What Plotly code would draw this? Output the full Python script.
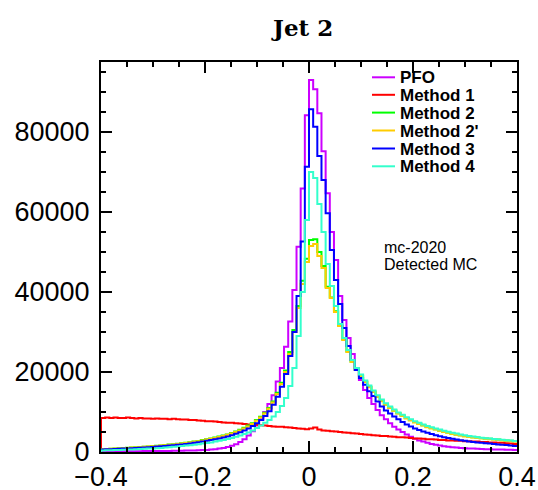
import numpy as np
import plotly.graph_objects as go

# ---------------- data (counts in thousands, 100 bins from -0.4 to 0.4) ----------------
x_min, x_max, n_bins = -0.4, 0.4, 100

pfo_k = [0.15, 0.15, 0.16, 0.17, 0.17, 0.18, 0.19, 0.2, 0.2, 0.21,
         0.22, 0.23, 0.24, 0.25, 0.26, 0.27, 0.28, 0.3, 0.31, 0.33,
         0.35, 0.37, 0.4, 0.43, 0.47, 0.52, 0.6, 0.7, 0.85, 1.0,
         1.25, 1.55, 1.95, 2.5, 3.2, 4.1, 5.2, 6.6, 8.2, 10.0,
         12.0, 14.2, 17.6, 21.0, 26.3, 32.6, 40.5, 51.3, 65.9, 84.2,
         93.0, 90.7, 84.7, 75.2, 64.7, 55.0, 48.0, 39.0, 33.0, 28.5,
         24.5, 21.0, 18.0, 15.5, 13.5, 12.0, 10.5, 9.2, 8.2, 7.2,
         6.3, 5.6, 5.0, 4.4, 3.8, 3.3, 2.9, 2.6, 2.3, 2.0,
         1.8, 1.6, 1.45, 1.3, 1.2, 1.1, 1.0, 0.95, 0.9, 0.85,
         0.8, 0.75, 0.7, 0.68, 0.65, 0.62, 0.6, 0.58, 0.55, 0.52]

method1_k = [8.5, 8.6, 8.5, 8.6, 8.5, 8.5, 8.6, 8.5, 8.4, 8.5,
             8.4, 8.4, 8.3, 8.4, 8.3, 8.3, 8.2, 8.3, 8.2, 8.1,
             8.1, 8.0, 8.0, 7.9, 7.8, 7.7, 7.7, 7.6, 7.5, 7.4,
             7.3, 7.3, 7.2, 7.1, 7.0, 6.9, 6.9, 6.8, 6.7, 6.6,
             6.5, 6.4, 6.3, 6.3, 6.2, 6.1, 6.0, 5.9, 5.8, 5.7,
             5.9, 6.1, 5.6, 5.4, 5.3, 5.2, 5.1, 5.0, 4.9, 4.8,
             4.7, 4.6, 4.5, 4.4, 4.3, 4.2, 4.1, 4.0, 4.0, 3.9,
             3.8, 3.7, 3.7, 3.6, 3.5, 3.4, 3.4, 3.3, 3.2, 3.2,
             3.1, 3.0, 3.0, 2.9, 2.9, 2.8, 2.8, 2.7, 2.7, 2.6,
             2.6, 2.5, 2.5, 2.4, 2.4, 2.3, 2.3, 2.2, 2.1, 2.0]

method2_k = [0.72, 0.78, 0.82, 0.88, 0.92, 0.98, 1.05, 1.12, 1.18, 1.25,
             1.32, 1.4, 1.48, 1.55, 1.65, 1.75, 1.85, 1.95, 2.05, 2.18,
             2.3, 2.45, 2.6, 2.78, 2.98, 3.2, 3.4, 3.6, 3.85, 4.1,
             4.4, 4.75, 5.1, 5.55, 6.05, 6.6, 7.2, 8.0, 8.8, 9.8,
             11.0, 12.6, 14.8, 17.3, 20.4, 25.0, 30.5, 36.5, 42.8, 48.3,
             53.0, 53.2, 50.0, 46.5, 41.3, 38.6, 35.2, 31.6, 28.1, 25.1,
             22.6, 20.6, 19.1, 17.6, 16.3, 15.1, 13.9, 12.8, 11.9, 11.1,
             10.4, 9.7, 9.1, 8.5, 8.0, 7.5, 7.1, 6.7, 6.3, 6.0,
             5.7, 5.4, 5.1, 4.9, 4.6, 4.4, 4.2, 4.0, 3.9, 3.7,
             3.6, 3.5, 3.4, 3.3, 3.2, 3.1, 3.0, 2.9, 2.8, 2.7]

method2p_k = [0.7, 0.75, 0.8, 0.85, 0.9, 0.95, 1.0, 1.1, 1.15, 1.2,
              1.3, 1.35, 1.45, 1.5, 1.6, 1.7, 1.8, 1.9, 2.0, 2.1,
              2.25, 2.4, 2.55, 2.7, 2.9, 3.1, 3.3, 3.5, 3.75, 4.0,
              4.3, 4.6, 5.0, 5.4, 5.9, 6.4, 7.0, 7.8, 8.6, 9.6,
              10.8, 12.4, 14.5, 17.0, 20.0, 24.5, 30.0, 36.0, 42.0, 47.5,
              51.5, 52.0, 49.0, 46.0, 41.0, 38.5, 35.0, 31.5, 28.0, 25.0,
              22.5, 20.5, 19.0, 17.5, 16.2, 15.0, 13.8, 12.7, 11.8, 11.0,
              10.3, 9.6, 9.0, 8.4, 7.9, 7.4, 7.0, 6.6, 6.2, 5.9,
              5.6, 5.3, 5.0, 4.8, 4.5, 4.3, 4.1, 3.9, 3.8, 3.6,
              3.5, 3.4, 3.3, 3.2, 3.1, 3.0, 2.9, 2.8, 2.7, 2.6]

method3_k = [0.62, 0.66, 0.7, 0.75, 0.8, 0.85, 0.9, 0.96, 1.02, 1.08,
             1.15, 1.2, 1.28, 1.35, 1.42, 1.5, 1.6, 1.7, 1.8, 1.9,
             2.0, 2.15, 2.3, 2.45, 2.6, 2.8, 3.0, 3.2, 3.4, 3.65,
             3.9, 4.2, 4.55, 4.95, 5.4, 5.9, 6.5, 7.2, 8.0, 9.0,
             10.2, 11.8, 13.8, 16.3, 19.5, 24.0, 30.0, 39.0, 52.6, 71.3,
             85.7, 81.3, 74.0, 68.0, 59.7, 50.5, 43.0, 37.0, 31.0, 26.5,
             23.0, 20.5, 18.5, 16.8, 15.2, 14.0, 12.6, 11.4, 10.4, 9.6,
             8.9, 8.2, 7.5, 6.9, 6.4, 5.9, 5.5, 5.1, 4.8, 4.5,
             4.2, 3.95, 3.7, 3.5, 3.3, 3.1, 2.95, 2.8, 2.65, 2.5,
             2.4, 2.3, 2.2, 2.1, 2.0, 1.9, 1.8, 1.72, 1.62, 1.52]

method4_k = [0.4, 0.43, 0.46, 0.5, 0.53, 0.57, 0.6, 0.65, 0.7, 0.75,
             0.8, 0.85, 0.9, 0.95, 1.0, 1.1, 1.2, 1.3, 1.4, 1.5,
             1.6, 1.7, 1.8, 1.95, 2.1, 2.25, 2.4, 2.6, 2.8, 3.0,
             3.25, 3.5, 3.8, 4.1, 4.5, 4.9, 5.4, 6.0, 6.6, 7.3,
             8.0, 8.9, 10.0, 11.5, 13.5, 16.5, 21.0, 29.0, 40.0, 58.0,
             70.0, 68.5, 62.0, 55.0, 47.0, 41.5, 36.5, 32.0, 28.5, 25.5,
             23.0, 21.0, 19.4, 17.9, 16.6, 15.4, 14.2, 13.1, 12.2, 11.4,
             10.6, 9.9, 9.3, 8.7, 8.2, 7.7, 7.3, 6.9, 6.5, 6.2,
             5.9, 5.6, 5.3, 5.05, 4.8, 4.6, 4.4, 4.2, 4.0, 3.85,
             3.7, 3.55, 3.45, 3.35, 3.25, 3.15, 3.05, 2.95, 2.85, 2.75]

series_names = ["PFO", "Method 1", "Method 2", "Method 2'", "Method 3", "Method 4"]
series_values_k = [pfo_k, method1_k, method2_k, method2p_k, method3_k, method4_k]
series_colors = ["#cc00ff", "#ff0000", "#00ff00", "#ffcc00", "#0000ff", "#33ffcc"]

x_tick_vals = [-0.4, -0.2, 0.0, 0.2, 0.4]
x_tick_text = ["\u22120.4", "\u22120.2", "0", "0.2", "0.4"]
y_tick_vals = [0, 20000, 40000, 60000, 80000]
y_tick_text = ["0", "20000", "40000", "60000", "80000"]

title_text = "Jet 2"
info_lines = ["mc-2020", "Detected MC"]

# ---------------- figure ----------------
edges = np.linspace(x_min, x_max, n_bins + 1)
fig = go.Figure()
for name, vals_k, col in zip(series_names, series_values_k, series_colors):
    vals = np.array(vals_k) * 1000.0
    xs = np.concatenate([[edges[0]], edges])
    ys = np.concatenate([[0.0], vals, [vals[-1]]])
    fig.add_trace(go.Scatter(x=xs, y=ys, mode="lines", line=dict(color=col, width=2, shape="hv"),
                             name=name, showlegend=False, hoverinfo="skip"))

W, H = 538, 490
ml, mr, mt, mb = 101, 21, 62, 38
pw, ph = W - ml - mr, H - mt - mb

def px_to_paper(px, py):
    return (px - ml) / pw, (H - mb - py) / ph

# manual ROOT-style legend
leg_y = [77.3, 94.8, 112.6, 130.5, 148.5, 166.3]
for name, col, yc in zip(series_names, series_colors, leg_y):
    x0, yp = px_to_paper(372, yc)
    x1, _ = px_to_paper(395, yc)
    fig.add_shape(type="line", xref="paper", yref="paper", x0=x0, x1=x1, y0=yp, y1=yp,
                  line=dict(color=col, width=2))
    xt, _ = px_to_paper(399, yc)
    fig.add_annotation(xref="paper", yref="paper", x=xt, y=yp, text="<b>%s</b>" % name,
                       showarrow=False, xanchor="left", yanchor="middle", height=16, borderpad=0,
                       valign="middle",
                       font=dict(family="Liberation Sans, Arial", size=17, color="black"))

for line, yc in zip(info_lines, [246.5, 263.5]):
    xt, yp = px_to_paper(383, yc)
    fig.add_annotation(xref="paper", yref="paper", x=xt, y=yp, text=line, showarrow=False,
                       xanchor="left", yanchor="middle", height=16, borderpad=0, valign="middle",
                       font=dict(family="Liberation Sans, Arial", size=16, color="black"))

fig.add_annotation(xref="paper", yref="paper", x=px_to_paper(302, 0)[0], y=px_to_paper(0, 27)[1],
                   text="<b>%s</b>" % title_text, showarrow=False, xanchor="center", yanchor="middle",
                   font=dict(family="DejaVu Serif", size=23, color="black"))

axis_common = dict(showgrid=False, zeroline=False, showline=True, linecolor="black", linewidth=2,
                   mirror="allticks", ticks="inside", ticklen=11, tickwidth=2, tickcolor="black",
                   automargin=False,
                   tickfont=dict(family="Liberation Sans, Arial", size=27, color="black"))
fig.update_layout(
    width=W, height=H, autosize=False,
    margin=dict(l=ml, r=mr, t=mt, b=mb, pad=0, autoexpand=False),
    paper_bgcolor="white", plot_bgcolor="white",
    showlegend=False,
    xaxis=dict(range=[x_min, x_max], tickmode="array", tickvals=x_tick_vals, ticktext=x_tick_text,
               minor=dict(dtick=0.05, tick0=0, ticks="inside", ticklen=5, tickwidth=2, tickcolor="black"),
               ticklabelstandoff=0, **axis_common),
    yaxis=dict(range=[0, 97500], tickmode="array", tickvals=y_tick_vals, ticktext=y_tick_text,
               minor=dict(dtick=5000, tick0=0, ticks="inside", ticklen=5, tickwidth=2, tickcolor="black"),
               ticklabelstandoff=4, **axis_common),
)
fig.write_html("out.html")
